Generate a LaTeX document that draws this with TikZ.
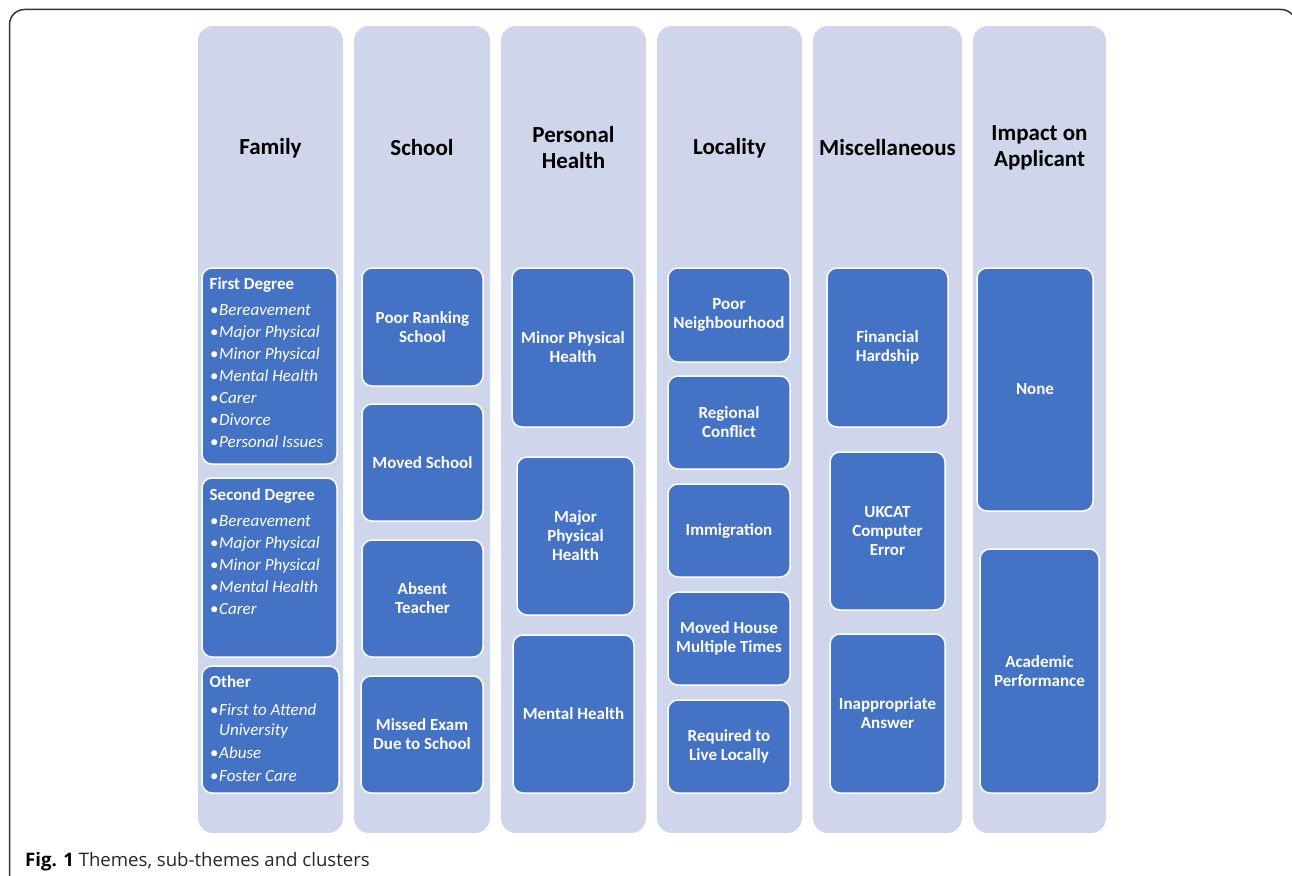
\documentclass[tikz,border=0pt]{standalone}
\usepackage{fontspec}
\setmainfont{Carlito}
\newfontfamily\capfont{Open Sans}
\definecolor{colbg}{HTML}{CFD5EA}
\definecolor{boxblue}{HTML}{4472C4}
\definecolor{framec}{HTML}{333333}
\newcommand\mybox[7]{%
  \pgfmathsetmacro\bw{#5-#3}\pgfmathsetmacro\bh{#6-#4}%
  \node[#1, minimum width=\bw pt, minimum height=\bh pt] (#2) at ({(#3+#5)/2},{(#4+#6)/2}) {#7};}
\newcommand\bitem[3]{%
  \node[bul] (#1b) at (210,#2) {\textbullet};
  \node[itm] (#1) at (219,#2) {#3};}
\begin{document}
\begin{tikzpicture}[x=1pt,y=-1pt,
  colbox/.style={fill=colbg, draw=none, rounded corners=15pt, inner sep=0pt},
  blockbox/.style={fill=boxblue, draw=white, line width=1.5pt, rounded corners=10pt, inner sep=0pt, text=white, font=\fontsize{17}{19}\selectfont\bfseries, align=center},
  title/.style={font=\fontsize{23}{26}\selectfont\bfseries, align=center, text=black, inner sep=0pt},
  hdr/.style={anchor=base west, text=white, font=\fontsize{17}{19}\selectfont\bfseries, inner sep=0pt},
  itm/.style={anchor=base west, text=white, font=\fontsize{17}{19}\selectfont\itshape, inner sep=0pt},
  bul/.style={anchor=base west, text=white, font=\fontsize{17}{19}\selectfont, inner sep=0pt}]
\useasboundingbox (0,0) rectangle (1292,875);
\begin{scope}
\clip (0,0) rectangle (1292,875);
\draw[framec, line width=1.5pt, rounded corners=15pt] (9.5,900) -- (9.5,9.5) -- (1296,9.5) -- (1296,900);
\end{scope}
% columns
\mybox{colbox}{cFam}{198}{26}{343}{833}{}
\mybox{colbox}{cSch}{354}{26}{490}{833}{}
\mybox{colbox}{cPH}{501}{26}{646}{833}{}
\mybox{colbox}{cLoc}{657}{26}{802}{833}{}
\mybox{colbox}{cMis}{813}{26}{962}{833}{}
\mybox{colbox}{cImp}{973}{26}{1106}{833}{}
% titles
\node[title] (tFam) at (270.5,148.5) {Family};
\node[title] (tSch) at (422,148) {School};
\node[title] (tPH) at (573.5,147.5) {Personal\\Health};
\node[title] (tLoc) at (729.5,148.5) {Locality};
\node[title] (tMis) at (887.5,148) {Miscellaneous};
\node[title] (tImp) at (1039.5,148) {Impact on\\Applicant};
% Family
\mybox{blockbox}{fd}{202}{268}{337}{464}{}
\mybox{blockbox}{sd}{202}{478}{337}{657}{}
\mybox{blockbox}{ot}{202}{666}{339}{793}{}
\node[hdr] (fdh) at (209.5,289) {First Degree};
\bitem{fdA}{315}{Bereavement}
\bitem{fdB}{337}{Major Physical}
\bitem{fdC}{359}{Minor Physical}
\bitem{fdD}{381}{Mental Health}
\bitem{fdE}{403}{Carer}
\bitem{fdF}{425}{Divorce}
\bitem{fdG}{447}{Personal Issues}
\node[hdr] (sdh) at (209.5,500) {Second Degree};
\bitem{sdA}{526}{Bereavement}
\bitem{sdB}{548}{Major Physical}
\bitem{sdC}{570}{Minor Physical}
\bitem{sdD}{592}{Mental Health}
\bitem{sdE}{614}{Carer}
\node[hdr] (oth) at (209.5,687) {Other};
\bitem{otA}{715}{First to Attend}
\node[itm] (otA2) at (219,735) {University};
\bitem{otB}{758}{Abuse}
\bitem{otC}{781}{Foster Care}
% School
\mybox{blockbox}{s1}{362}{268}{483}{386}{Poor Ranking\\School}
\mybox{blockbox}{s2}{362}{404}{483}{521}{Moved School}
\mybox{blockbox}{s3}{362}{540}{483}{657}{Absent\\Teacher}
\mybox{blockbox}{s4}{361}{676}{483}{793}{Missed Exam\\Due to School}
% Personal health
\mybox{blockbox}{p1}{512}{268}{634}{427}{Minor Physical\\Health}
\mybox{blockbox}{p2}{517}{457}{634}{615}{Major\\Physical\\Health}
\mybox{blockbox}{p3}{513}{635}{634}{793}{Mental Health}
% Locality
\mybox{blockbox}{l1}{668}{268}{790}{362}{Poor\\Neighbourhood}
\mybox{blockbox}{l2}{668}{376}{790}{469}{Regional\\Conflict}
\mybox{blockbox}{l3}{668}{484}{790}{577}{Immigration}
\mybox{blockbox}{l4}{668}{592}{790}{685}{Moved House\\Multiple Times}
\mybox{blockbox}{l5}{668}{700}{790}{793}{Required to\\Live Locally}
% Misc
\mybox{blockbox}{m1}{827}{268}{948}{427}{Financial\\Hardship}
\mybox{blockbox}{m2}{830}{452}{945}{610}{UKCAT\\Computer\\Error}
\mybox{blockbox}{m3}{830}{634}{945}{793}{Inappropriate\\Answer}
% Impact
\mybox{blockbox}{i1}{977}{268}{1093}{511}{None}
\mybox{blockbox}{i2}{980}{549}{1099}{793}{Academic\\Performance}
% caption
\node[anchor=base west, inner sep=0pt, font=\capfont\fontsize{18.6}{20}\selectfont, text=black!85] (cap) at (25,866) {\textbf{\color{black}Fig. 1} Themes, sub-themes and clusters};
\end{tikzpicture}
\end{document}
